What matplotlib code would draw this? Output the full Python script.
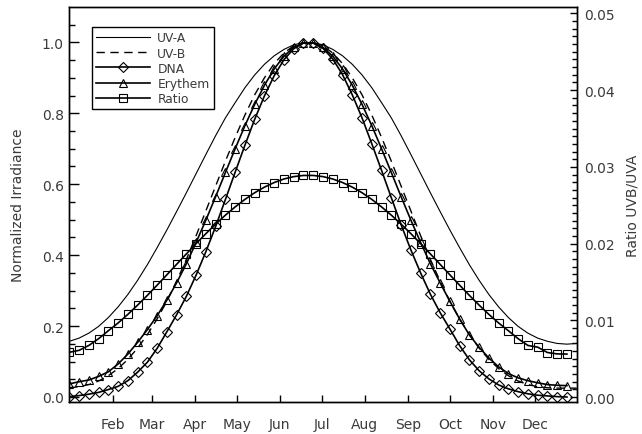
import matplotlib
matplotlib.use("Agg")
import matplotlib.pyplot as plt
from matplotlib.ticker import MultipleLocator, FixedLocator

# ---------------- data ----------------
days = [1, 8, 15, 22, 29, 36, 43, 50, 57, 64, 71, 78, 85, 92, 99, 106, 113, 120,
        127, 134, 141, 148, 155, 162, 169, 176, 183, 190, 197, 204, 211, 218, 225,
        232, 239, 246, 253, 260, 267, 274, 281, 288, 295, 302, 309, 316, 323, 330,
        337, 344, 351, 358]
days_line = days + [365]

uva = [0.157, 0.166, 0.180, 0.199, 0.224, 0.254, 0.289, 0.329, 0.373, 0.421,
       0.471, 0.523, 0.576, 0.630, 0.684, 0.737, 0.787, 0.830, 0.872, 0.908,
       0.938, 0.962, 0.980, 0.993, 0.999,
       0.999, 0.993, 0.980, 0.962, 0.938, 0.908, 0.872, 0.830, 0.787, 0.737,
       0.684, 0.630, 0.576, 0.523, 0.471, 0.421, 0.373, 0.329, 0.289, 0.254,
       0.224, 0.199, 0.180, 0.166, 0.157, 0.151, 0.149, 0.151]

uvb = [0.026, 0.029, 0.035, 0.045, 0.060, 0.080, 0.106, 0.138, 0.176, 0.220,
       0.270, 0.327, 0.388, 0.455, 0.525, 0.595, 0.665, 0.732, 0.795, 0.852,
       0.900, 0.940, 0.970, 0.990, 0.999,
       0.999, 0.990, 0.970, 0.940, 0.900, 0.852, 0.795, 0.732, 0.665, 0.595,
       0.525, 0.455, 0.388, 0.327, 0.270, 0.220, 0.176, 0.138, 0.106, 0.080,
       0.060, 0.045, 0.035, 0.029, 0.026, 0.025, 0.025, 0.025]

dna = [0.001, 0.004, 0.008, 0.013, 0.021, 0.030, 0.046, 0.070, 0.098, 0.137,
       0.184, 0.232, 0.284, 0.344, 0.410, 0.481, 0.557, 0.634, 0.710, 0.783,
       0.849, 0.906, 0.951, 0.982, 0.998,
       0.998, 0.983, 0.953, 0.909, 0.852, 0.787, 0.714, 0.639, 0.562, 0.486,
       0.415, 0.350, 0.290, 0.238, 0.192, 0.145, 0.105, 0.074, 0.051, 0.034,
       0.023, 0.015, 0.009, 0.005, 0.003, 0.001, 0.000]

erythem = [0.037, 0.043, 0.048, 0.058, 0.071, 0.093, 0.121, 0.154, 0.190, 0.229,
           0.273, 0.322, 0.376, 0.436, 0.499, 0.565, 0.633, 0.700, 0.765, 0.825,
           0.879, 0.925, 0.961, 0.986, 0.998,
           0.998, 0.986, 0.961, 0.925, 0.879, 0.825, 0.765, 0.700, 0.633, 0.565,
           0.499, 0.436, 0.376, 0.322, 0.270, 0.220, 0.175, 0.140, 0.110, 0.085,
           0.066, 0.054, 0.046, 0.040, 0.035, 0.033, 0.032]

ratio = [0.00583, 0.00608, 0.00672, 0.00760, 0.00864, 0.00965, 0.01077, 0.01198,
         0.01325, 0.01458, 0.01593, 0.01730, 0.01866, 0.02000, 0.02130, 0.02254,
         0.02371, 0.02478, 0.02576, 0.02663, 0.02736, 0.02796, 0.02842, 0.02873,
         0.02888,
         0.02888, 0.02873, 0.02842, 0.02796, 0.02736, 0.02663, 0.02576, 0.02478,
         0.02371, 0.02254, 0.02130, 0.02000, 0.01866, 0.01730, 0.01593, 0.01458,
         0.01325, 0.01198, 0.01077, 0.00965, 0.00864, 0.00760, 0.00672, 0.00650,
         0.00580, 0.00562, 0.00560]

month_days = [32, 60, 91, 121, 152, 182, 213, 244, 274, 305, 335]
month_labels = ["Feb", "Mar", "Apr", "May", "Jun", "Jul", "Aug", "Sep", "Oct",
                "Nov", "Dec"]
series_labels = ["UV-A", "UV-B", "DNA", "Erythem", "Ratio"]

# ---------------- figure ----------------
plt.rcParams['font.family'] = ['DejaVu Sans']
TXT = '#3a3a3a'
fig = plt.figure(figsize=(6.42, 4.35), dpi=100)
ax = fig.add_axes([69.3 / 642, 1 - 403 / 435, (576.7 - 69.3) / 642, (403 - 8.3) / 435])
ax2 = ax.twinx()

l1, = ax.plot(days_line, uva, color='black', lw=0.8, label=series_labels[0])
l2, = ax.plot(days_line, uvb, color='black', lw=1.0, dashes=(6, 4),
              label=series_labels[1])
l3, = ax.plot(days, dna, color='black', lw=1.2, marker='D', ms=4.6,
              mfc='none', mec='black', mew=0.8, label=series_labels[2])
l4, = ax.plot(days, erythem, color='black', lw=1.2, marker='^', ms=6,
              mfc='none', mec='black', mew=0.8, label=series_labels[3])
l5, = ax2.plot(days, ratio, color='black', lw=1.2, marker='s', ms=6,
               mfc='none', mec='black', mew=0.8, label=series_labels[4])

ax.set_xlim(1, 365)
ax.set_ylim(-0.0141, 1.0987)
ax2.set_ylim(-0.00065, 0.0508)

ax.xaxis.set_major_locator(FixedLocator(month_days))
ax.set_xticklabels(month_labels)
ax.yaxis.set_major_locator(FixedLocator([0.0, 0.2, 0.4, 0.6, 0.8, 1.0]))
ax.yaxis.set_minor_locator(MultipleLocator(0.05))
ax.set_yticklabels(["0.0", "0.2", "0.4", "0.6", "0.8", "1.0"])
ax2.yaxis.set_major_locator(FixedLocator([0.0, 0.01, 0.02, 0.03, 0.04, 0.05]))
ax2.yaxis.set_minor_locator(MultipleLocator(0.001))
ax2.set_yticklabels(["0.00", "0.01", "0.02", "0.03", "0.04", "0.05"])

ax.tick_params(axis='x', which='major', direction='in', length=5, width=1,
               top=False, labelsize=10, labelcolor=TXT, pad=11)
ax.tick_params(axis='y', which='major', direction='in', length=7, width=1,
               right=False, labelsize=10, labelcolor=TXT, pad=4)
ax.tick_params(axis='y', which='minor', direction='in', length=4, width=1,
               right=False)
ax2.tick_params(axis='y', which='major', direction='in', length=5, width=1,
                labelsize=10, labelcolor=TXT, pad=5)
ax2.tick_params(axis='y', which='minor', direction='in', length=3.5, width=1)

for a in (ax, ax2):
    for s in a.spines.values():
        s.set_linewidth(1.0)
        s.set_color('black')

ax.set_ylabel("Normalized Irradiance", fontsize=10, color=TXT, labelpad=12)
ax2.set_ylabel("Ratio UVB/UVA", fontsize=10, color=TXT, labelpad=8)

leg = ax.legend(handles=[l1, l2, l3, l4, l5], loc='upper left',
                bbox_to_anchor=(0.0447, 0.950), fontsize=8.8, frameon=True,
                fancybox=False, framealpha=1, edgecolor='black',
                handlelength=4.4, handletextpad=0.6, labelspacing=0.18,
                borderpad=0.35, borderaxespad=0, numpoints=1)
leg.get_frame().set_linewidth(1.0)
for t in leg.get_texts():
    t.set_color(TXT)

fig.savefig("out.png", dpi=100)
